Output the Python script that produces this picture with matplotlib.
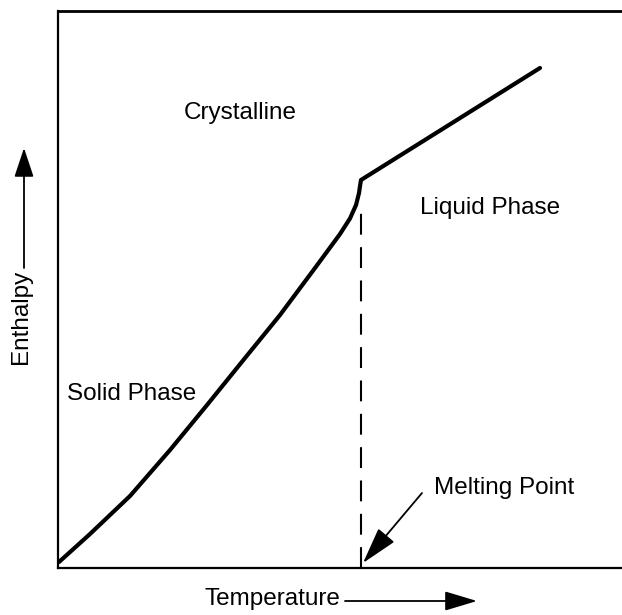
import matplotlib
matplotlib.use("Agg")
from matplotlib import pyplot as plt
from matplotlib.patches import FancyArrowPatch

plt.rcParams['font.family'] = ['Liberation Sans', 'DejaVu Sans']

# enthalpy curve (arbitrary units 0..100)
temp = [0.18, 5.67, 12.77, 19.86, 26.42, 33.16, 39.36, 45.57, 50.0, 51.77, 52.84, 53.37, 53.55, 53.72, 85.46]
enthalpy = [1.08, 6.10, 12.93, 21.18, 29.26, 37.70, 45.42, 53.86, 59.96, 62.75, 65.17, 67.32, 68.58, 69.66, 89.77]
melt_t = 53.72
melt_h = 63.9

W, H = 622, 615
fig = plt.figure(figsize=(W / 100, H / 100), dpi=100)
# axes box in pixels: left 58, right 622, top 11, bottom 568
ax = fig.add_axes([58 / W, (H - 568) / H, 564 / W, 557 / H])
ax.set_xlim(0, 100)
ax.set_ylim(0, 100)

ax.plot(temp, enthalpy, color='black', lw=3.0, solid_capstyle='round', solid_joinstyle='round')
ax.plot([melt_t, melt_t], [0, melt_h], color='black', lw=1.5, dashes=(10, 6))

for s in ax.spines.values():
    s.set_linewidth(1.6)
ax.spines['top'].set_linewidth(2.0)
ax.spines['right'].set_visible(False)
ax.set_xticks([])
ax.set_yticks([])

fs = 17.5


def px(x, y):
    return (x / W, 1 - y / H)


fig.text(*px(240, 113), 'Crystalline', fontsize=fs, ha='center', va='center')
fig.text(*px(490, 208), 'Liquid Phase', fontsize=fs, ha='center', va='center')
fig.text(*px(132, 394), 'Solid Phase', fontsize=fs, ha='center', va='center')
fig.text(*px(504, 488), 'Melting Point', fontsize=fs, ha='center', va='center')
fig.text(*px(272, 599), 'Temperature', fontsize=fs, ha='center', va='center')
fig.text(*px(21, 317), 'Enthalpy', fontsize=fs, ha='center', va='center', rotation=90)

arrows = [((422, 493), (363, 563), 2.3, 0.65),
          ((345, 601), (477, 601), 2.0, 0.6),
          ((24, 268), (24, 148), 1.8, 0.6)]
for tail, tip, hl, hw in arrows:
    fig.patches.append(FancyArrowPatch(
        px(*tail), px(*tip), transform=fig.transFigure,
        arrowstyle=f'-|>,head_length={hl},head_width={hw}',
        color='black', lw=1.3, mutation_scale=10, shrinkA=0, shrinkB=0))

fig.savefig('out.png', dpi=100)
